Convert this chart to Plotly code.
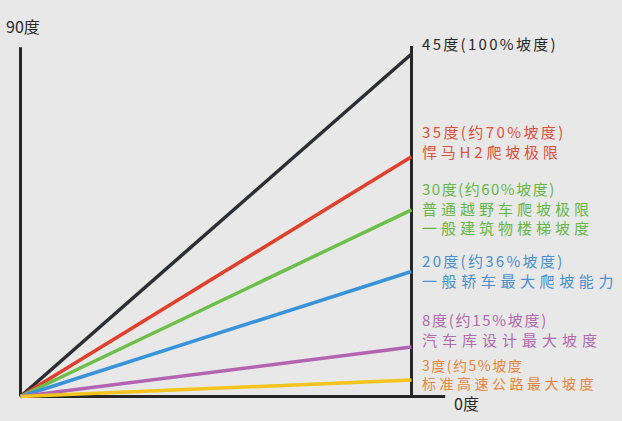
import json
import plotly.graph_objects as go

# ---- data ----
angle_labels = ["45度(100%坡度)", "35度(约70%坡度)", "30度(约60%坡度)",
                "20度(约36%坡度)", "8度(约15%坡度)", "3度(约5%坡度"]
sub_labels = [[], ["悍马H2爬坡极限"], ["普通越野车爬坡极限", "一般建筑物楼梯坡度"],
              ["一般轿车最大爬坡能力"], ["汽车库设计最大坡度"], ["标准高速公路最大坡度"]]
# height reached at the right-hand post, relative to the 45-degree line
end_heights = [1.0, 0.70, 0.545, 0.365, 0.1445, 0.048]
line_colors = ["#2b2f33", "#e0402b", "#6cc04a", "#3a93d8", "#b463b3", "#f2c41c"]
text_colors = ["#2a2a2a", "#e0503c", "#67b747", "#4a8fcf", "#b16aae", "#e8853a"]
axis_top_label = "90度"
axis_bottom_label = "0度"

# frame extents (data units)
left_post_top = 1.02
right_post_top = 1.023
base_end = 1.086

W, H = 622, 421
X0, X1 = -20.5 / 391, (W - 20.5) / 391
Y0, Y1 = -(H - 396.5) / 342.5, 396.5 / 342.5

fig = go.Figure()
frame_col = "#262626"
fig.add_trace(go.Scatter(x=[0, 0], y=[0, left_post_top], mode="lines",
                         line=dict(color=frame_col, width=3), hoverinfo="skip"))
fig.add_trace(go.Scatter(x=[1, 1], y=[0, right_post_top], mode="lines",
                         line=dict(color=frame_col, width=3), hoverinfo="skip"))
fig.add_trace(go.Scatter(x=[0, base_end], y=[0, 0], mode="lines",
                         line=dict(color=frame_col, width=3), hoverinfo="skip"))

for h, c in zip(end_heights, line_colors):
    fig.add_trace(go.Scatter(x=[0, 1], y=[0, h], mode="lines",
                             line=dict(color=c, width=3.5), hoverinfo="skip"))

font_family = "Noto Sans CJK SC"

def px_to_paper(py):
    return 1 - py / H

def px_to_x(px):
    return (px - 20.5) / 391

# text styling per block
first_line_centre = [43, 132, 188, 261, 320, 365]
block_sizes = [15, 15, 15, 15, 15, 14]
title_spacing = [2.3, 2.4, 1.5, 2.3, 1.7, 1.5]
body_spacing = [0, 3.8, 4.0, 4.6, 5.0, 3.5]

styles = []
for lab, subs, fc, col, fs, ts, bs in zip(angle_labels, sub_labels, first_line_centre,
                                         text_colors, block_sizes, title_spacing,
                                         body_spacing):
    lines = [lab] + subs
    n = len(lines)
    cy = fc + (n - 1) * 0.65 * fs
    fig.add_annotation(x=px_to_x(420), xref="x", y=px_to_paper(cy), yref="paper",
                       text="<br>".join(lines), showarrow=False, xanchor="left",
                       yanchor="middle", align="left",
                       font=dict(family=font_family, size=fs, color=col))
    styles.append({"t": ts, "b": bs})

fig.add_annotation(x=px_to_x(4), xref="x", y=px_to_paper(26), yref="paper",
                   text=axis_top_label, showarrow=False, xanchor="left", yanchor="middle",
                   font=dict(family=font_family, size=16, color="#2a2a2a"))
styles.append({"t": 0, "b": 0})
fig.add_annotation(x=px_to_x(452), xref="x", y=px_to_paper(403), yref="paper",
                   text=axis_bottom_label, showarrow=False, xanchor="left", yanchor="middle",
                   font=dict(family=font_family, size=16, color="#2a2a2a"))
styles.append({"t": 0, "b": 0})

fig.update_layout(width=W, height=H, margin=dict(l=0, r=0, t=0, b=0),
                  paper_bgcolor="#e8e8e8", plot_bgcolor="#e8e8e8", showlegend=False)
fig.update_xaxes(range=[X0, X1], visible=False, fixedrange=True)
fig.update_yaxes(range=[Y0, Y1], visible=False, fixedrange=True)

post = """
document.body.style.margin = '0';
var gd = document.getElementById('{plot_id}');
var ST = __STYLES__;
gd.querySelectorAll('g.annotation').forEach(function (a, k) {
  var st = ST[k];
  if (!st) return;
  var t = a.querySelector('.annotation-text');
  if (!t) return;
  var lines = t.querySelectorAll('tspan.line');
  if (lines.length === 0) {
    if (st.t) t.setAttribute('letter-spacing', st.t);
    return;
  }
  lines.forEach(function (s, i) {
    s.setAttribute('letter-spacing', i === 0 ? st.t : st.b);
  });
});
""".replace("__STYLES__", json.dumps(styles))

fig.write_html("out.html", config={"displayModeBar": False}, post_script=post)
